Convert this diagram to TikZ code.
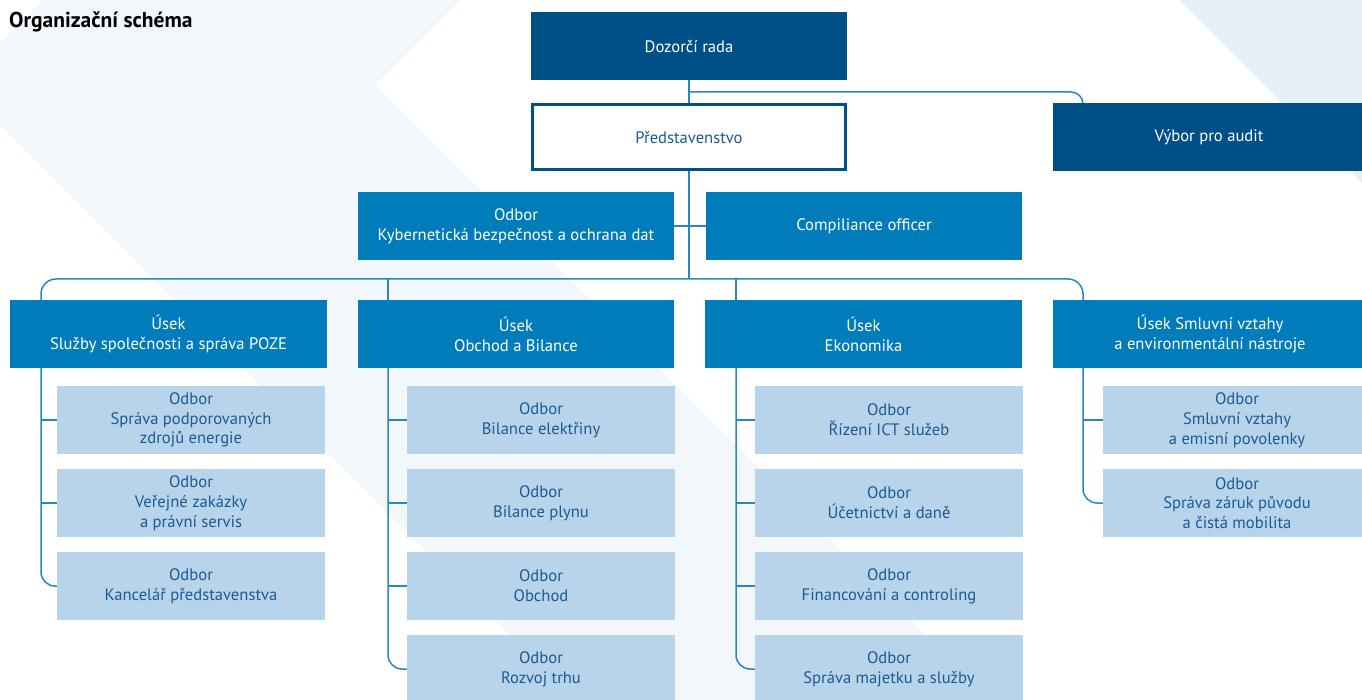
\documentclass[tikz,border=0pt]{standalone}
\usepackage{fontspec}
\setmainfont{PT Sans}
\usetikzlibrary{calc}
\definecolor{darkb}{HTML}{004F87}
\definecolor{midb}{HTML}{007CBA}
\definecolor{lightb}{HTML}{B7D4EB}
\definecolor{lineb}{HTML}{2A86C1}
\definecolor{txtb}{HTML}{1C5A92}
\definecolor{bgA}{HTML}{F2F7FC}
\definecolor{bgB}{HTML}{E6F0F9}
\pgfdeclarelayer{bg}
\pgfdeclarelayer{lines}
\pgfsetlayers{bg,lines,main}
\begin{document}
\begin{tikzpicture}[x=1pt,y=-1pt,
 base/.style={inner sep=0pt, outer sep=0pt, align=center, font=\fontsize{16.6}{19.8}\selectfont, minimum height=68pt},
 darkbox/.style={base, fill=darkb, text=white, minimum width=316pt},
 midbox/.style={base, fill=midb, text=white, minimum width=316pt},
 subbox/.style={base, fill=lightb, text=txtb, minimum width=268pt},
 conn/.style={draw=lineb, line width=1.5pt}]
\useasboundingbox (0,0) rectangle (1362,700);
\clip (0,0) rectangle (1362,700);
\begin{pgfonlayer}{bg}
\fill[bgA] (460,0) -- (375.5,84.5) -- (991,700) -- (575,700) -- (-41,84) -- (43,0) -- cycle;
\fill[bgB] (1179,0) -- (1400,0) -- (1400,221) -- cycle;
\end{pgfonlayer}

\node[anchor=west, inner sep=0pt, font=\bfseries\fontsize{21.5}{24}\selectfont] (title) at (9,22) {Organizační schéma};

\node[darkbox] (dr) at (689,46.5) {Dozorčí rada};
\node[base, fill=white, draw=darkb, line width=3pt, text=txtb, minimum width=313pt, minimum height=65pt] (pr) at (689,137.5) {Představenstvo};
\node[darkbox, minimum width=312pt] (va) at (1209,137.5) {Výbor pro audit};
\node[midbox] (kb) at (516,226) {Odbor\\Kybernetická bezpečnost a ochrana dat};
\node[midbox] (co) at (864,226) {Compiliance officer};

\node[midbox, minimum width=317pt] (u1) at (168.5,334) {Úsek\\Služby společnosti a správa POZE};
\node[midbox] (u2) at (516,334) {Úsek\\Obchod a Bilance};
\node[midbox, minimum width=317pt] (u3) at (863.5,334) {Úsek\\Ekonomika};
\node[midbox, minimum width=314pt] (u4) at (1210,334) {Úsek Smluvní vztahy\\a environmentální nástroje};

\node[subbox] (s11) at (191,420) {Odbor\\Správa podporovaných\\zdrojů energie};
\node[subbox] (s12) at (191,503) {Odbor\\Veřejné zakázky\\a právní servis};
\node[subbox] (s13) at (191,586) {Odbor\\Kancelář představenstva};

\node[subbox] (s21) at (541,420) {Odbor\\Bilance elektřiny};
\node[subbox] (s22) at (541,503) {Odbor\\Bilance plynu};
\node[subbox] (s23) at (541,586) {Odbor\\Obchod};
\node[subbox] (s24) at (541,669) {Odbor\\Rozvoj trhu};

\node[subbox] (s31) at (889,420) {Odbor\\Řízení ICT služeb};
\node[subbox] (s32) at (889,503) {Odbor\\Účetnictví a daně};
\node[subbox] (s33) at (889,586) {Odbor\\Financování a controling};
\node[subbox] (s34) at (889,669) {Odbor\\Správa majetku a služby};

\node[subbox] (s41) at (1237,420) {Odbor\\Smluvní vztahy\\a emisní povolenky};
\node[subbox] (s42) at (1237,503) {Odbor\\Správa záruk původu\\a čistá mobilita};

\begin{pgfonlayer}{lines}
\coordinate (busy) at (0,279);
\coordinate (ay) at (0,92);
\draw[conn] (dr.south) -- (pr.north);
\draw[conn] (pr.south) -- (pr.south |- busy);
\draw[conn] (kb.east) -- (co.west);
\draw[conn, rounded corners=12pt] (dr.south |- ay) -| ($(va.north west)+(30,0)$);
\coordinate (d1) at ($(u1.north west)+(31,0)$);
\coordinate (d2) at ($(u2.north west)+(30,0)$);
\coordinate (d3) at ($(u3.north west)+(31,0)$);
\coordinate (d4) at ($(u4.north west)+(30,0)$);
\draw[conn, rounded corners=15pt] (d1) |- (d4 |- busy) -- (d4);
\draw[conn] (d2 |- busy) -- (d2);
\draw[conn] (d3 |- busy) -- (d3);
\coordinate (e1) at ($(u1.south west)+(31,0)$);
\coordinate (e2) at ($(u2.south west)+(30,0)$);
\coordinate (e3) at ($(u3.south west)+(31,0)$);
\coordinate (e4) at ($(u4.south west)+(30,0)$);
\draw[conn, rounded corners=14pt] (e1) |- (s13.west);
\draw[conn] (e1 |- s11.west) -- (s11.west);
\draw[conn] (e1 |- s12.west) -- (s12.west);
\draw[conn, rounded corners=14pt] (e2) |- (s24.west);
\draw[conn] (e2 |- s21.west) -- (s21.west);
\draw[conn] (e2 |- s22.west) -- (s22.west);
\draw[conn] (e2 |- s23.west) -- (s23.west);
\draw[conn, rounded corners=14pt] (e3) |- (s34.west);
\draw[conn] (e3 |- s31.west) -- (s31.west);
\draw[conn] (e3 |- s32.west) -- (s32.west);
\draw[conn] (e3 |- s33.west) -- (s33.west);
\draw[conn, rounded corners=14pt] (e4) |- (s42.west);
\draw[conn] (e4 |- s41.west) -- (s41.west);
\end{pgfonlayer}
\end{tikzpicture}
\end{document}
